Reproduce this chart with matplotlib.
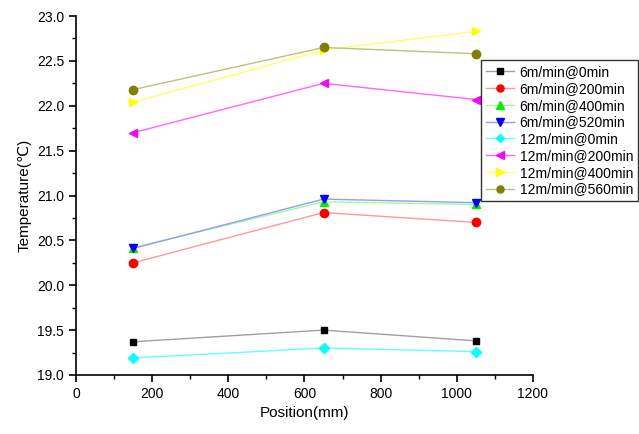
import matplotlib
matplotlib.use("Agg")
import matplotlib.pyplot as plt
from matplotlib.ticker import MultipleLocator, FormatStrFormatter

plt.rcParams['font.family'] = ['Liberation Sans', 'DejaVu Sans']

positions = [150, 650, 1050]

labels = ["6m/min@0min", "6m/min@200min", "6m/min@400min", "6m/min@520min",
          "12m/min@0min", "12m/min@200min", "12m/min@400min", "12m/min@560min"]

t_6_0 = [19.37, 19.50, 19.38]
t_6_200 = [20.25, 20.81, 20.70]
t_6_400 = [20.42, 20.93, 20.90]
t_6_520 = [20.41, 20.96, 20.92]
t_12_0 = [19.19, 19.30, 19.26]
t_12_200 = [21.70, 22.25, 22.07]
t_12_400 = [22.04, 22.62, 22.83]
t_12_560 = [22.18, 22.65, 22.58]

series = [t_6_0, t_6_200, t_6_400, t_6_520, t_12_0, t_12_200, t_12_400, t_12_560]
markers = ['s', 'o', '^', 'v', 'D', '<', '>', 'o']
marker_colors = ['#000000', '#ff0000', '#00ee00', '#0000ff', '#00ffff', '#ff00ff', '#ffff00', '#808000']
line_colors = ['#a0a0a0', '#ff9999', '#99ff99', '#9999ff', '#66ffff', '#ff66ff', '#ffff66', '#c0c080']
marker_sizes = [5, 6, 6, 6, 5, 6, 6, 6]

fig = plt.figure(figsize=(6.39, 4.34), dpi=100)
ax = fig.add_axes([0.119, 0.136, 0.715, 0.827])

for vals, lab, m, mc, lc, ms in zip(series, labels, markers, marker_colors, line_colors, marker_sizes):
    ax.plot(positions, vals, color=lc, linewidth=1.0, marker=m, markersize=ms,
            markerfacecolor=mc, markeredgecolor=mc, label=lab)

ax.set_xlim(0, 1200)
ax.set_ylim(19.0, 23.0)
ax.xaxis.set_major_locator(MultipleLocator(200))
ax.xaxis.set_minor_locator(MultipleLocator(100))
ax.yaxis.set_major_locator(MultipleLocator(0.5))
ax.yaxis.set_minor_locator(MultipleLocator(0.25))
ax.yaxis.set_major_formatter(FormatStrFormatter('%.1f'))

for s in ['top', 'right']:
    ax.spines[s].set_visible(False)
for s in ['left', 'bottom']:
    ax.spines[s].set_linewidth(1.2)
ax.tick_params(which='major', direction='out', length=5, width=1.2, labelsize=10)
ax.tick_params(which='minor', direction='out', length=3, width=1.0)

ax.set_xlabel("Position(mm)", fontsize=11)
ax.set_ylabel("Temperature(℃)", fontsize=11)

leg = ax.legend(loc='upper right', bbox_to_anchor=(1.23, 0.877), fontsize=10,
                frameon=True, fancybox=False, edgecolor='black', borderpad=0.35,
                labelspacing=0.2, handlelength=2.0, handletextpad=0.4,
                borderaxespad=0.0, markerscale=0.85)
leg.get_frame().set_linewidth(1.0)
leg.set_clip_on(False)

fig.savefig("out.png", dpi=100)
